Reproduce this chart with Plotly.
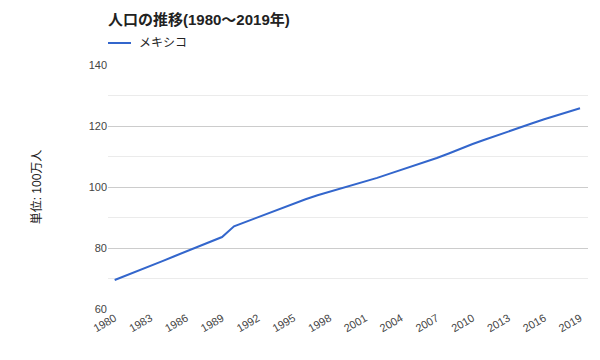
import plotly.graph_objects as go

years = list(range(1980, 2020))
mexico = [69.5, 71.0, 72.6, 74.2, 75.7, 77.3, 78.9, 80.5, 82.0, 83.6,
          87.1, 88.6, 90.1, 91.6, 93.1, 94.6, 96.0, 97.3, 98.4, 99.5,
          100.7, 101.8, 103.0, 104.3, 105.6, 106.8, 108.1, 109.5, 111.0, 112.6,
          114.1, 115.5, 116.9, 118.3, 119.6, 120.9, 122.2, 123.4, 124.6, 125.8]
xticks = list(range(1980, 2020, 3))
series_name = "メキシコ"
line_color = "#3366CC"

FONT = "Arial, 'Noto Sans CJK JP', sans-serif"
L, R, T, B = 108, 12, 65, 51
W, H = 600, 360
pw, ph = W - L - R, H - T - B

fig = go.Figure()
fig.add_trace(go.Scatter(x=years, y=mexico, mode="lines", name=series_name,
                         line=dict(color=line_color, width=2), showlegend=False))

# manual legend (line sample + label)
ly = 1 + (T - 43) / ph
fig.add_shape(type="line", xref="paper", yref="paper",
              x0=0, x1=23 / pw, y0=ly, y1=ly, line=dict(color=line_color, width=2))
fig.add_annotation(text=series_name, xref="paper", yref="paper", x=29 / pw, y=ly,
                   xanchor="left", yanchor="middle", showarrow=False,
                   font=dict(size=12, color="#222"))

fig.update_layout(
    width=W, height=H,
    margin=dict(l=L, r=R, t=T, b=B),
    paper_bgcolor="white", plot_bgcolor="white",
    font=dict(family=FONT, size=11, color="#444"),
    title=dict(text="<b>人口の推移(1980～2019年)</b>", x=L / W, xref="container",
               xanchor="left", y=1 - 20 / H, yref="container", yanchor="middle",
               font=dict(size=15, color="#222", family=FONT)),
    showlegend=False,
    xaxis=dict(range=[1979.44, 2019.67], tickvals=xticks, tickangle=-30,
               showgrid=False, zeroline=False, showline=False, ticks="",
               automargin=False, tickfont=dict(size=11, color="#444")),
    yaxis=dict(range=[60, 140], dtick=20, showgrid=True, gridcolor="#cccccc",
               zeroline=False, showline=False, ticks="", automargin=False,
               tickfont=dict(size=11, color="#444"),
               title=dict(text="単位: 100万人", font=dict(size=12, color="#222"), standoff=44),
               minor=dict(dtick=10, showgrid=True, gridcolor="#ebebeb")),
)

fig.write_html("out.html", config={"displayModeBar": False},
               post_script="document.body.style.margin='0';document.body.style.padding='0';")
